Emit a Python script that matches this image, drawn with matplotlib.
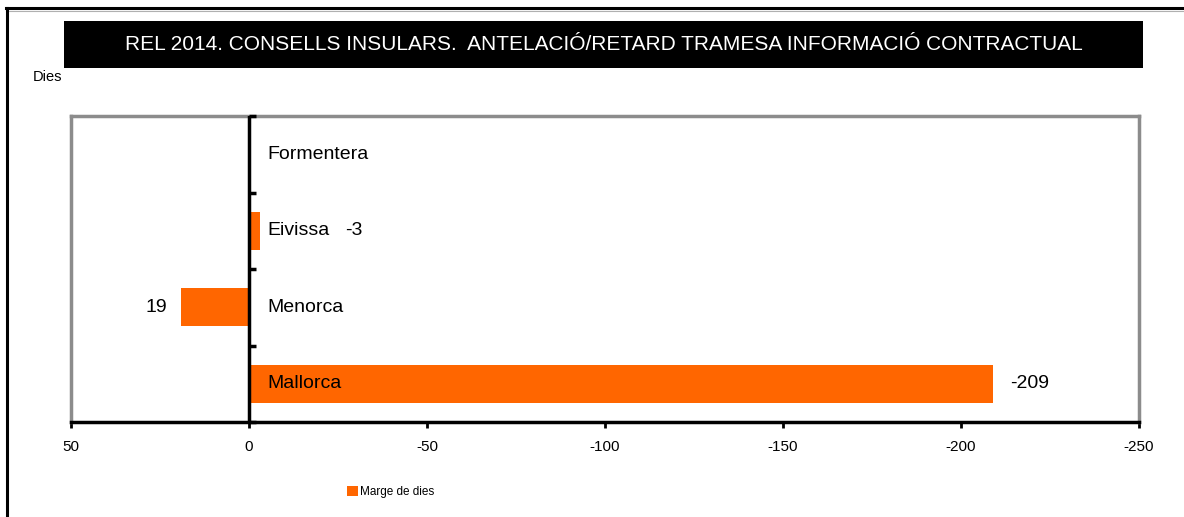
import matplotlib
matplotlib.use("Agg")
import matplotlib.pyplot as plt
import numpy as np
from matplotlib.lines import Line2D
from matplotlib.patches import Rectangle

plt.rcParams['font.family'] = ['Liberation Sans', 'DejaVu Sans']

title = "REL 2014. CONSELLS INSULARS.  ANTELACIÓ/RETARD TRAMESA INFORMACIÓ CONTRACTUAL"
categories = ["Mallorca", "Menorca", "Eivissa", "Formentera"]
values = [-209, 19, -3, 0]
value_labels = ["-209", "19", "-3", ""]
series_name = "Marge de dies"
xticks = [50, 0, -50, -100, -150, -200, -250]
ylabel = "Dies"

W, H = 1184, 517
fig = plt.figure(figsize=(W / 100, H / 100), dpi=100)

def fx(px):
    return px / W

def fy(py):
    return 1 - py / H

# outer frame (top and left)
fig.add_artist(Line2D([fx(6), 1], [fy(8), fy(8)], color='black', lw=2.2))
fig.add_artist(Line2D([fx(6), 1], [fy(10.5), fy(10.5)], color='#b0b0b0', lw=0.8))
fig.add_artist(Line2D([fx(6.5), fx(6.5)], [0, fy(8)], color='black', lw=2.2))

# title box
fig.add_artist(Rectangle((fx(64), fy(68)), fx(1143) - fx(64), fy(21) - fy(68),
                         transform=fig.transFigure, facecolor='black', edgecolor='none'))
fig.text(fx(603.5), fy(45), title, color='white', ha='center', va='center', fontsize=15)

fig.text(fx(62), fy(77), ylabel, ha='right', va='center', fontsize=10.5)

ax = fig.add_axes([fx(71), fy(422), fx(1139) - fx(71), fy(116) - fy(422)])
ypos = np.arange(len(categories))
bars = ax.barh(ypos, values, height=0.5, color='#FF6600', label=series_name, zorder=2)

ax.set_xlim(50, -250)
ax.set_ylim(-0.5, len(categories) - 0.5)
ax.set_xticks(xticks)
ax.set_xticklabels([str(t) for t in xticks], fontsize=11)
ax.tick_params(axis='x', direction='out', length=4, width=2, color='black', pad=9)
ax.set_yticks([])

for s in ['left', 'top', 'right']:
    ax.spines[s].set_color('#8c8c8c')
    ax.spines[s].set_linewidth(2.5)
ax.spines['bottom'].set_color('black')
ax.spines['bottom'].set_linewidth(2.5)

# vertical zero axis with ticks at category boundaries
ax.axvline(0, color='black', lw=2.5, zorder=3)
bounds = np.arange(len(categories) + 1) - 0.5
ax.plot(np.zeros(len(bounds)), bounds, ls='', marker=1, ms=5, mew=2.5,
        color='black', clip_on=False, zorder=3)

# category labels beside the zero axis
for y, c in zip(ypos, categories):
    ax.annotate(c, xy=(0, y), xytext=(18, 0), textcoords='offset pixels',
                ha='left', va='center', fontsize=14, zorder=4)

# value labels
for y, v, lab, c in zip(ypos, values, value_labels, categories):
    if not lab:
        continue
    if v > 0:
        ax.annotate(lab, xy=(v, y), xytext=(-14, 0), textcoords='offset pixels',
                    ha='right', va='center', fontsize=14)
    elif abs(v) < 10:
        ax.annotate(lab, xy=(0, y), xytext=(96, 0), textcoords='offset pixels',
                    ha='left', va='center', fontsize=14)
    else:
        ax.annotate(lab, xy=(v, y), xytext=(17, 0), textcoords='offset pixels',
                    ha='left', va='center', fontsize=14)

fig.legend(handles=[bars], labels=[series_name], loc='center left',
           bbox_to_anchor=(fx(347), fy(492)), frameon=False, fontsize=8.5,
           handlelength=0.9, handleheight=0.9, handletextpad=0.2,
           borderpad=0, borderaxespad=0)

fig.savefig("out.png", dpi=100)
